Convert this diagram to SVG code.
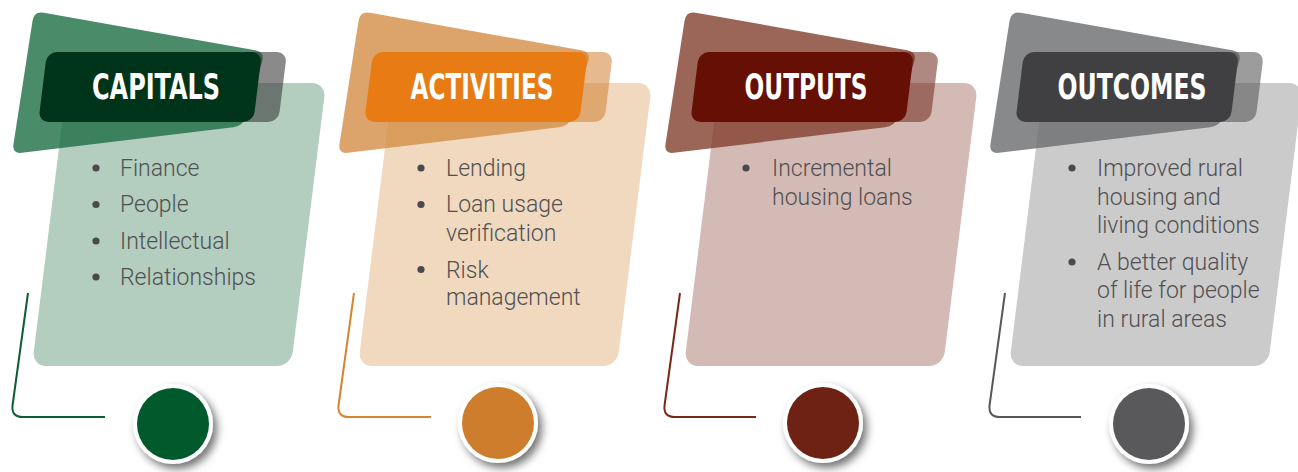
<svg xmlns="http://www.w3.org/2000/svg" width="1298" height="472" viewBox="0 0 1298 472">
  <defs>
    <filter id="dropShadow" x="-40%" y="-40%" width="200%" height="200%">
      <feDropShadow dx="4" dy="5" stdDeviation="4" flood-color="#000" flood-opacity="0.55"/>
    </filter>
    <!-- shared shapes, positioned per column -->
    <path id="tab" d="M43.8,12.7 L255.2,50.3 Q265,52 262.2,61.6 L245.9,116.4 Q243,126 233.1,127.2 L21.9,152.8 Q12,154 13.5,144.1 L32.5,20.9 Q34,11 43.8,12.7 Z"/>
    <rect id="card" x="77.3" y="83" width="259" height="283" rx="14" transform="skewX(-7.05)"/>
    <rect id="shade" x="110" y="52" width="183.4" height="70" rx="10" transform="skewX(-7.05)"/>
    <rect id="header" x="53.4" y="52" width="215" height="70" rx="10" transform="skewX(-7.05)"/>
  </defs>
  <style>
    .title { font-family: "Liberation Sans Narrow", "DejaVu Sans Condensed", "Liberation Sans", sans-serif; font-weight: bold; font-size: 35px; fill: #ffffff; text-anchor: middle; }
    .body { font-family: Roboto, "Liberation Sans", Arial, sans-serif; font-weight: 300; font-size: 23px; fill: #505052; }
    .dot { fill: #4a4a4c; }
    .ring { fill: #ffffff; filter: url(#dropShadow); }
    .link { fill: none; stroke-width: 2; }
  </style>

  <rect width="1298" height="472" fill="#ffffff"/>

  <!-- L-shaped leader lines -->
  <g id="connectors">
    <path class="link" stroke="#0b5e31" d="M28,293 L12.6,405 Q11,417 23,417 L105,417"/>
    <path class="link" stroke="#d4852f" d="M354,293 L338.6,405 Q337,417 349,417 L431,417"/>
    <path class="link" stroke="#7a2815" d="M680,293 L664.6,405 Q663,417 675,417 L756,417"/>
    <path class="link" stroke="#58585a" d="M1005,293 L989.6,405 Q988,417 1000,417 L1081,417"/>
  </g>

  <!-- CAPITALS -->
  <g id="capitals">
    <use href="#card" fill="#b3cdbf"/>
    <use href="#tab" fill="rgba(29,110,69,0.8)"/>
    <use href="#shade" fill="rgba(60,60,60,0.6)"/>
    <use href="#header" fill="#00341a"/>
    <text class="title" x="156" y="99" textLength="128" lengthAdjust="spacingAndGlyphs">CAPITALS</text>
    <circle class="dot" cx="96" cy="168" r="3.6"/>
    <circle class="dot" cx="96" cy="204.5" r="3.6"/>
    <circle class="dot" cx="96" cy="241" r="3.6"/>
    <circle class="dot" cx="96" cy="277" r="3.6"/>
    <text class="body" x="120" y="176">Finance</text>
    <text class="body" x="120" y="212">People</text>
    <text class="body" x="120" y="248.5">Intellectual</text>
    <text class="body" x="120" y="285">Relationships</text>
    <circle class="ring" cx="173" cy="424" r="40"/>
    <circle cx="173" cy="424" r="36" fill="#005a2c"/>
  </g>

  <!-- ACTIVITIES -->
  <g id="activities">
    <g transform="translate(326,0)">
      <use href="#card" fill="#f0d9be"/>
      <use href="#tab" fill="rgba(211,141,70,0.8)"/>
      <use href="#shade" fill="rgba(212,128,50,0.55)"/>
      <use href="#header" fill="#e87b13"/>
    </g>
    <text class="title" x="482" y="99" textLength="143" lengthAdjust="spacingAndGlyphs">ACTIVITIES</text>
    <circle class="dot" cx="421" cy="168" r="3.6"/>
    <circle class="dot" cx="421" cy="204.5" r="3.6"/>
    <circle class="dot" cx="421" cy="269.5" r="3.6"/>
    <text class="body" x="446" y="176">Lending</text>
    <text class="body" x="446" y="212">Loan usage</text>
    <text class="body" x="446" y="241">verification</text>
    <text class="body" x="446" y="277.5">Risk</text>
    <text class="body" x="446" y="305">management</text>
    <circle class="ring" cx="498" cy="423" r="40"/>
    <circle cx="498" cy="423" r="36" fill="#cd7d2b"/>
  </g>

  <!-- OUTPUTS -->
  <g id="outputs">
    <g transform="translate(652,0)">
      <use href="#card" fill="#d4bab5"/>
      <use href="#tab" fill="rgba(130,64,46,0.8)"/>
      <use href="#shade" fill="rgba(110,40,25,0.55)"/>
      <use href="#header" fill="#650f05"/>
    </g>
    <text class="title" x="806" y="99" textLength="123" lengthAdjust="spacingAndGlyphs">OUTPUTS</text>
    <circle class="dot" cx="746" cy="168" r="3.6"/>
    <text class="body" x="772" y="176">Incremental</text>
    <text class="body" x="772" y="205">housing loans</text>
    <circle class="ring" cx="823" cy="423" r="40"/>
    <circle cx="823" cy="423" r="36" fill="#6e2214"/>
  </g>

  <!-- OUTCOMES -->
  <g id="outcomes">
    <g transform="translate(977,0)">
      <use href="#card" fill="#cbcbcb"/>
      <use href="#tab" fill="rgba(106,107,110,0.8)"/>
      <use href="#shade" fill="rgba(90,90,92,0.6)"/>
      <use href="#header" fill="#404042"/>
    </g>
    <text class="title" x="1132" y="99" textLength="149" lengthAdjust="spacingAndGlyphs">OUTCOMES</text>
    <circle class="dot" cx="1072" cy="168" r="3.6"/>
    <circle class="dot" cx="1072" cy="262" r="3.6"/>
    <text class="body" x="1097" y="176">Improved rural</text>
    <text class="body" x="1097" y="205">housing and</text>
    <text class="body" x="1097" y="233">living conditions</text>
    <text class="body" x="1097" y="270">A better quality</text>
    <text class="body" x="1097" y="298">of life for people</text>
    <text class="body" x="1097" y="327">in rural areas</text>
    <circle class="ring" cx="1149" cy="424" r="40"/>
    <circle cx="1149" cy="424" r="36" fill="#59595b"/>
  </g>
</svg>
